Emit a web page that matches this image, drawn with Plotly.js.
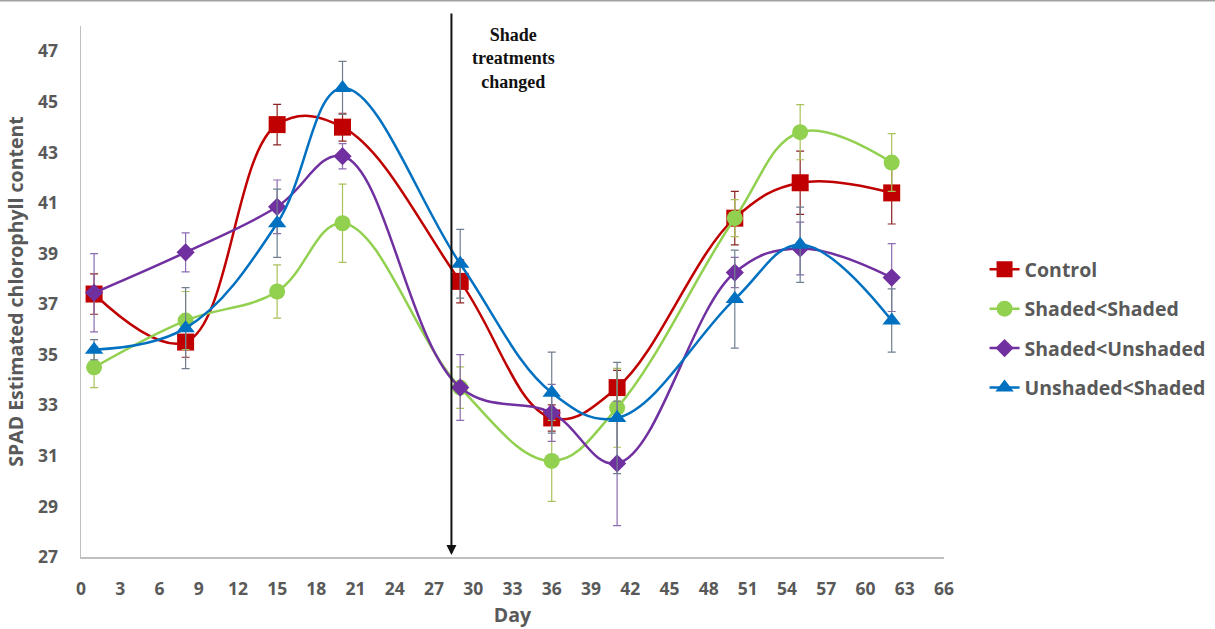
<!DOCTYPE html>
<html>
<head>
<meta charset="utf-8">
<script src="https://cdn.plot.ly/plotly-3.0.1.min.js"></script>
<style>html,body{margin:0;padding:0;background:#fff;}#chart{width:1215px;height:629px;}</style>
</head>
<body>
<div id="chart"></div>
<script>
const days = [1, 8, 15, 20, 29, 36, 41, 50, 55, 62];
const xTicks = [0,3,6,9,12,15,18,21,24,27,30,33,36,39,42,45,48,51,54,57,60,63,66];
const yTicks = [27,29,31,33,35,37,39,41,43,45,47];

const seriesNames = ["Control", "Shaded<Shaded", "Shaded<Unshaded", "Unshaded<Shaded"];
const control        = [37.4, 35.5, 44.1, 44.0, 37.9, 32.5, 33.7, 40.4, 41.8, 41.4];
const controlErr     = [0.8, 0.6, 0.8, 0.55, 0.85, 0.52, 0.68, 1.06, 1.25, 1.23];
const shadedShaded   = [34.5, 36.35, 37.5, 40.2, 33.7, 30.8, 32.9, 40.4, 43.8, 42.6];
const shadedShadedErr= [0.8, 1.15, 1.05, 1.55, 0.82, 1.6, 1.56, 0.73, 1.09, 1.14];
const shadedUnshaded = [37.45, 39.05, 40.85, 42.85, 33.7, 32.7, 30.7, 38.25, 39.2, 38.05];
const shadedUnshadedErr = [1.55, 0.77, 1.06, 0.5, 1.3, 1.13, 2.46, 0.6, 1.04, 1.34];
const unshadedShaded = [35.2, 36.05, 40.2, 45.55, 38.6, 33.5, 32.5, 37.2, 39.35, 36.35];
const unshadedShadedErr = [0.4, 1.6, 1.35, 1.05, 1.36, 1.6, 2.2, 1.94, 1.49, 1.25];

const values = [control, shadedShaded, shadedUnshaded, unshadedShaded];
const errs = [controlErr, shadedShadedErr, shadedUnshadedErr, unshadedShadedErr];
const lineColors = ["#C00000", "#92D050", "#7030A0", "#0070C0"];
const errColors = ["#8B2323", "#A9C25A", "#8C6BAF", "#6F7F8F"];
const symbols = ["square", "circle", "diamond", "triangle-up"];
const sizes = [17, 16, 14, 16];

const traces = seriesNames.map((n, i) => ({
  type: "scatter", mode: "lines+markers", name: n,
  x: days, y: values[i],
  legendgroup: "g" + i,
  line: {color: lineColors[i], width: 2.5, shape: "spline", smoothing: 1.1},
  marker: {symbol: symbols[i], size: sizes[i], color: lineColors[i]},
  error_y: {type: "data", array: errs[i], visible: true, color: errColors[i], thickness: 1.2, width: 4},
  cliponaxis: false
}));

const font = "'Open Sans', 'DejaVu Sans', sans-serif";
const layout = {
  width: 1215, height: 629,
  margin: {l: 81, r: 271, t: 26, b: 72, autoexpand: false},
  paper_bgcolor: "#fff", plot_bgcolor: "#fff",
  showlegend: true,
  legend: {x: 1.047, xanchor: "left", y: 0.43, yanchor: "middle",
    font: {family: font, size: 19.5, color: "#595959", weight: "bold"},
    tracegroupgap: 11, itemwidth: 30, bgcolor: "rgba(0,0,0,0)"},
  xaxis: {range: [0, 66], tickvals: xTicks, ticktext: xTicks.map(String),
    showgrid: false, zeroline: false, showline: true, linecolor: "#BFBFBF", linewidth: 1.5,
    ticks: "", ticklabelstandoff: 15,
    tickfont: {family: font, size: 17.5, color: "#595959", weight: "bold"},
    title: {text: "Day", font: {family: font, size: 19.5, color: "#595959", weight: "bold"}, standoff: 10}},
  yaxis: {range: [27, 48], tickvals: yTicks, ticktext: yTicks.map(String),
    showgrid: false, zeroline: false, showline: true, linecolor: "#BFBFBF", linewidth: 1.5,
    ticks: "", ticklabelstandoff: 18,
    tickfont: {family: font, size: 17.5, color: "#595959", weight: "bold"},
    title: {text: "SPAD Estimated chlorophyll content", font: {family: font, size: 19.5, color: "#595959", weight: "bold"}, standoff: 9}},
  annotations: [
    {x: 28.33, y: 27.08, xref: "x", yref: "y", ax: 28.33, ay: 48.55, axref: "x", ayref: "y",
     text: "", showarrow: true, arrowhead: 2, arrowsize: 1, arrowwidth: 2, arrowcolor: "#111"},
    {x: 33.1, y: 46.7, xref: "x", yref: "y", xanchor: "center", yanchor: "middle",
     text: "<b>Shade<br>treatments<br>changed</b>", showarrow: false,
     font: {family: "'Liberation Serif', 'DejaVu Serif', serif", size: 18, color: "#111"}}
  ],
  shapes: [
    {type: "line", xref: "paper", yref: "paper", x0: -0.1, x1: 1.32, y0: 1.048, y1: 1.048,
     line: {color: "#A0A0A0", width: 2}}
  ]
};

Plotly.newPlot("chart", traces, layout, {displayModeBar: false, staticPlot: true});
</script>
</body>
</html>
